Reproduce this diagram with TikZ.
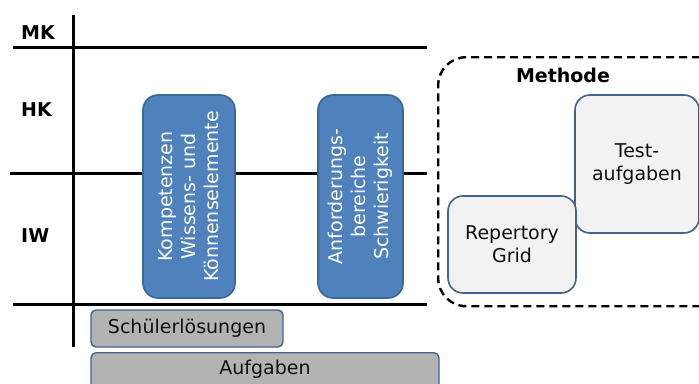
\documentclass[tikz,border=0pt]{standalone}
\usepackage{fontspec}
\setmainfont{DejaVu Sans}
\begin{document}
\begin{tikzpicture}[x=1pt,y=-1pt,
  every node/.style={font=\fontsize{19}{23}\selectfont, inner sep=0pt},
  axis/.style={line width=3pt, black},
  lbl/.style={font=\fontsize{19}{23}\selectfont\bfseries, anchor=west},
  bluebox/.style={draw=blueedge, fill=bluefill, line width=1.6pt, rounded corners=15pt, text=white, align=center, rotate=90},
  lightbox/.style={draw=lightedge, fill=lightfill, line width=1.6pt, rounded corners=15pt, text=textdark, align=center},
  greybox/.style={draw=lightedge, fill=greyfill, line width=1.4pt, rounded corners=5pt, text=textdark, align=center},
  dashbox/.style={draw=black, dash pattern=on 8pt off 5pt, line width=2.4pt, rounded corners=28pt}
]
\definecolor{bluefill}{HTML}{4F81BD}
\definecolor{blueedge}{HTML}{3A679B}
\definecolor{lightfill}{HTML}{F2F2F2}
\definecolor{lightedge}{HTML}{41638F}
\definecolor{greyfill}{HTML}{B3B3B3}
\definecolor{textdark}{HTML}{111111}
\useasboundingbox (0,0) rectangle (699,383);
\clip (0,0) rectangle (699,383);

% axes
\coordinate (v1) at (73,15);
\coordinate (v2) at (73,347);
\coordinate (h1a) at (13,47);
\coordinate (h1b) at (427,47);
\coordinate (h2a) at (10,173);
\coordinate (h2b) at (427,173);
\coordinate (h3a) at (13,304);
\coordinate (h3b) at (427,304);
\draw[axis] (v1) -- (v2);
\draw[axis] (h1a) -- (h1b);
\draw[axis] (h2a) -- (h2b);
\draw[axis] (h3a) -- (h3b);

\node[lbl] (mk) at (21,33) {MK};
\node[lbl] (hk) at (21,110) {HK};
\node[lbl] (iw) at (21,236) {IW};

% blue boxes
\node[bluebox, minimum width=203pt, minimum height=92pt] (komp) at (189,196.5)
  {Kompetenzen\\Wissens- und\\Könnenselemente};
\node[bluebox, minimum width=203pt, minimum height=85pt] (anf) at (360.5,196.5)
  {Anforderungs-\\bereiche\\Schwierigkeit};

% bottom boxes
\node[greybox, minimum width=192pt, minimum height=37pt] (schuel) at (187,328.5) {Schülerlösungen};
\node[greybox, minimum width=348pt, minimum height=50pt, anchor=north] (aufg) at (265,352) {};
\node[text=textdark] (aufgt) at (265,369) {Aufgaben};

% method
\node[dashbox, minimum width=290pt, minimum height=249pt, anchor=north west] (meth) at (437,56) {};
\node[font=\fontsize{19}{23}\selectfont\bfseries] (methl) at (563,75) {Methode};
\node[lightbox, minimum width=124pt, minimum height=138pt] (test) at (637,164) {Test-\\aufgaben};
\node[lightbox, minimum width=128pt, minimum height=97pt] (rep) at (512,244.5) {Repertory\\Grid};
\end{tikzpicture}
\end{document}
